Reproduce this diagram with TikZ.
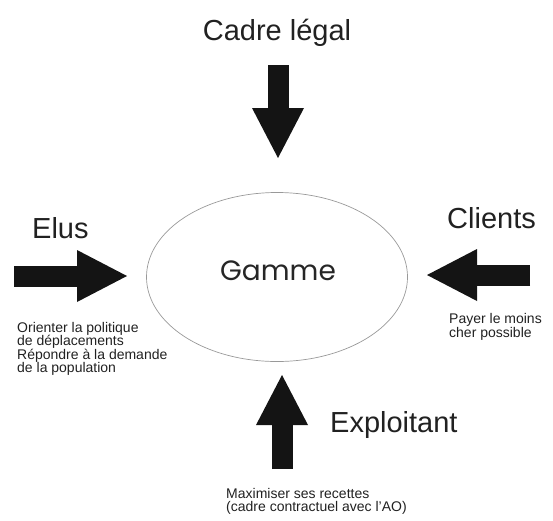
\documentclass[tikz,border=0pt]{standalone}
\usepackage{fontspec}
\setmainfont{Liberation Sans}
\newfontfamily\gammefont{Poppins}
\usetikzlibrary{arrows.meta,shapes.geometric}

\begin{document}
\begin{tikzpicture}[x=1pt,y=-1pt,
                    fat/.style={line width=21pt,draw=black!92,
                      -{Triangle[length=50pt,width=52pt,line width=0pt]}},
                    title/.style={font=\fontsize{29}{34}\selectfont,text=black!87,inner sep=0pt},
                    note/.style={font=\fontsize{14}{13.5}\selectfont,text=black!87,
                      inner sep=0pt,align=left}]
  \useasboundingbox (0,0) rectangle (553,520);

  \node[ellipse,draw=black!40,line width=0.7pt,inner sep=0pt,
        minimum width=261pt,minimum height=169pt] (gamme) at (277,277) {};
  \node[anchor=base,inner sep=0pt,text=black!85,
        font=\gammefont\fontsize{28}{32}\selectfont] (gammetext) at (278,280) {Gamme};

  \node[title,anchor=base]      (cadre)   at (277,40)  {Cadre légal};
  \node[title,anchor=base west] (elus)    at (32,238)  {Elus};
  \node[title,anchor=base west] (clients) at (447,228) {Clients};
  \node[title,anchor=base west] (exploit) at (330,432) {Exploitant};

  % base of a multi-line note = baseline of its last line
  \node[note,anchor=base west] (elusnote)    at (17,372.5) {Orienter la politique\\de déplacements\\Répondre à la demande\\de la population};
  \node[note,anchor=base west] (clientsnote) at (449,337)  {Payer le moins\\cher possible};
  \node[note,anchor=base west] (exploitnote) at (226,511.5) {Maximiser ses recettes\\(cadre contractuel avec l'AO)};

  \coordinate (cadre-tail)   at (278,65);
  \coordinate (cadre-tip)    at (278,158);
  \coordinate (elus-tail)    at (14,276);
  \coordinate (elus-tip)     at (127,276);
  \coordinate (clients-tail) at (530,275);
  \coordinate (clients-tip)  at (427,275);
  \coordinate (exploit-tail) at (282,469);
  \coordinate (exploit-tip)  at (282,375);

  \path (cadre-tail)   edge[fat] (cadre-tip)
        (elus-tail)    edge[fat] (elus-tip)
        (clients-tail) edge[fat] (clients-tip)
        (exploit-tail) edge[fat] (exploit-tip);
\end{tikzpicture}
\end{document}
